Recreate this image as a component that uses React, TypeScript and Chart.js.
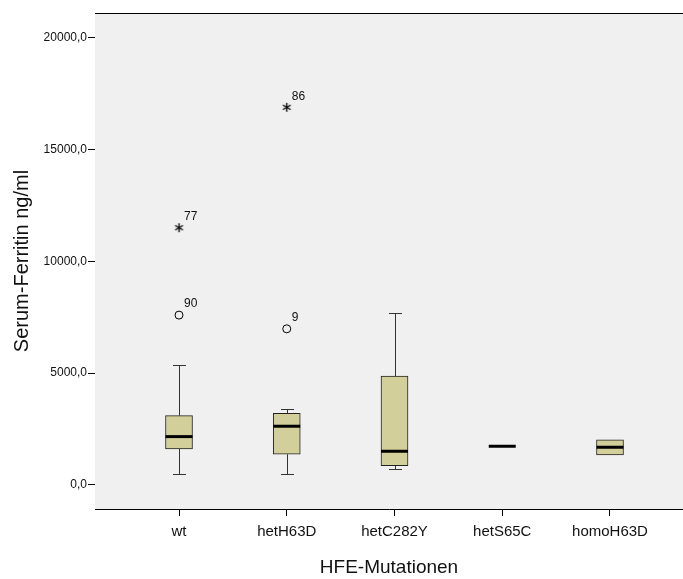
import React, { useEffect, useRef } from 'react';
import { Chart, registerables } from 'chart.js';

Chart.register(...registerables);

const CATEGORIES = ['wt', 'hetH63D', 'hetC282Y', 'hetS65C', 'homoH63D'];
const WHISKER_LOW: (number | null)[] = [507, 479, 703, null, null];
const Q1 = [1611, 1374, 864, 1732, 1343];
const MEDIAN = [2163, 2627, 1508, 1732, 1687];
const Q3 = [3103, 3209, 4865, 1732, 2014];
const WHISKER_HIGH: (number | null)[] = [5357, 3402, 7685, null, null];

const CIRCLE_X = [1, 2];
const CIRCLE_Y = [7596, 6983];
const CIRCLE_LABELS = ['90', '9'];
const STAR_X = [1, 2];
const STAR_Y = [11504, 16888];
const STAR_LABELS = ['77', '86'];

const Y_TICKS = [0, 5000, 10000, 15000, 20000];
const Y_MIN = -1074;
const Y_MAX = 21105;
const X_MIN = 0.2204;
const X_MAX = 5.6775;

const FONT = "'Liberation Sans', Arial, sans-serif";
const BOX_FILL = '#D3CF9A';
const PLOT_BG = '#F0F0F0';

function makeAsterisk(): HTMLCanvasElement {
  const c = document.createElement('canvas');
  c.width = 11;
  c.height = 11;
  const g = c.getContext('2d')!;
  g.strokeStyle = '#000';
  g.lineWidth = 1.3;
  const cx = 5.5;
  const cy = 5.5;
  const r = 4.5;
  for (let k = 0; k < 3; k++) {
    const a = Math.PI / 2 + (k * Math.PI) / 3;
    g.beginPath();
    g.moveTo(cx + r * Math.cos(a), cy + r * Math.sin(a));
    g.lineTo(cx - r * Math.cos(a), cy - r * Math.sin(a));
    g.stroke();
  }
  return c;
}

export default function App() {
  const ref = useRef<HTMLCanvasElement>(null);

  useEffect(() => {
    document.body.style.margin = '0';
    const canvas = ref.current!;

    const boxPlugin = {
      id: 'boxPlugin',
      beforeDatasetsDraw(chart: any) {
        const { ctx, chartArea } = chart;
        ctx.save();
        ctx.fillStyle = PLOT_BG;
        ctx.fillRect(chartArea.left, chartArea.top, chartArea.right - chartArea.left, chartArea.bottom - chartArea.top);
        const xs = chart.scales.x;
        const ys = chart.scales.y;
        ctx.strokeStyle = '#333';
        ctx.lineWidth = 1;
        CATEGORIES.forEach((_, i) => {
          const px = Math.round(xs.getPixelForValue(i + 1)) + 0.5;
          const hi = WHISKER_HIGH[i];
          const lo = WHISKER_LOW[i];
          if (hi != null) {
            const yh = Math.round(ys.getPixelForValue(hi)) + 0.5;
            const yq = ys.getPixelForValue(Q3[i]);
            ctx.beginPath();
            ctx.moveTo(px, yq);
            ctx.lineTo(px, yh);
            ctx.moveTo(px - 6.5, yh);
            ctx.lineTo(px + 6.5, yh);
            ctx.stroke();
          }
          if (lo != null) {
            const yl = Math.round(ys.getPixelForValue(lo)) + 0.5;
            const yq = ys.getPixelForValue(Q1[i]);
            ctx.beginPath();
            ctx.moveTo(px, yq);
            ctx.lineTo(px, yl);
            ctx.moveTo(px - 6.5, yl);
            ctx.lineTo(px + 6.5, yl);
            ctx.stroke();
          }
        });
        ctx.restore();
      },
      afterDatasetsDraw(chart: any) {
        const { ctx, chartArea } = chart;
        const xs = chart.scales.x;
        const ys = chart.scales.y;
        ctx.save();
        ctx.strokeStyle = '#000';
        ctx.lineWidth = 3;
        CATEGORIES.forEach((_, i) => {
          const px = xs.getPixelForValue(i + 1);
          const py = ys.getPixelForValue(MEDIAN[i]);
          ctx.beginPath();
          ctx.moveTo(px - 13.5, py);
          ctx.lineTo(px + 13.5, py);
          ctx.stroke();
        });
        ctx.fillStyle = '#111';
        ctx.font = `12px ${FONT}`;
        ctx.textAlign = 'left';
        ctx.textBaseline = 'middle';
        CIRCLE_X.forEach((x, i) => {
          ctx.fillText(CIRCLE_LABELS[i], xs.getPixelForValue(x) + 5, ys.getPixelForValue(CIRCLE_Y[i]) - 11);
        });
        STAR_X.forEach((x, i) => {
          ctx.fillText(STAR_LABELS[i], xs.getPixelForValue(x) + 5, ys.getPixelForValue(STAR_Y[i]) - 11);
        });
        ctx.strokeStyle = '#000';
        ctx.lineWidth = 1;
        ctx.beginPath();
        ctx.moveTo(chartArea.left, chartArea.top + 0.5);
        ctx.lineTo(chartArea.right, chartArea.top + 0.5);
        ctx.stroke();
        ctx.restore();
      },
    };

    const chart = new Chart(canvas, {
      type: 'bar',
      data: {
        datasets: [
          {
            type: 'bar',
            data: CATEGORIES.map((_, i) => ({ x: i + 1, y: [Q1[i], Q3[i]] })) as any,
            backgroundColor: BOX_FILL,
            borderColor: '#222',
            borderWidth: 1,
            borderSkipped: false,
            barThickness: 27,
            grouped: false,
          } as any,
          {
            type: 'scatter',
            data: CIRCLE_X.map((x, i) => ({ x, y: CIRCLE_Y[i] })),
            pointStyle: 'circle',
            pointRadius: 4,
            pointBorderColor: '#000',
            pointBorderWidth: 1,
            pointBackgroundColor: 'rgba(0,0,0,0)',
          } as any,
          {
            type: 'scatter',
            data: STAR_X.map((x, i) => ({ x, y: STAR_Y[i] })),
            pointStyle: makeAsterisk(),
            pointRadius: 4.5,
          } as any,
        ],
      },
      options: {
        responsive: false,
        animation: false,
        devicePixelRatio: 1,
        layout: { autoPadding: false, padding: { top: 13, right: 0, bottom: 0, left: 0 } },
        plugins: {
          legend: { display: false },
          tooltip: { enabled: false },
        },
        scales: {
          x: {
            type: 'linear',
            offset: false,
            min: X_MIN,
            max: X_MAX,
            afterBuildTicks: (scale: any) => {
              scale.ticks = CATEGORIES.map((_, i) => ({ value: i + 1 }));
            },
            afterFit: (scale: any) => {
              scale.height = 70;
            },
            ticks: {
              autoSkip: false,
              maxRotation: 0,
              padding: 7,
              color: '#111',
              font: { family: FONT, size: 15 },
              callback: (v: any) => CATEGORIES[Math.round(Number(v)) - 1] ?? '',
            },
            grid: { display: true, offset: false, drawOnChartArea: false, drawTicks: true, tickLength: 7, color: '#000' },
            border: { display: true, color: '#000', width: 1 },
            title: {
              display: true,
              text: 'HFE-Mutationen',
              color: '#111',
              font: { family: FONT, size: 19 },
              padding: { top: 0, bottom: 0 },
            },
          },
          y: {
            type: 'linear',
            min: Y_MIN,
            max: Y_MAX,
            afterBuildTicks: (scale: any) => {
              scale.ticks = Y_TICKS.map((v) => ({ value: v }));
            },
            afterFit: (scale: any) => {
              scale.width = 95;
            },
            ticks: {
              padding: 1,
              color: '#111',
              font: { family: FONT, size: 12 },
              callback: (v: any) => Number(v).toFixed(1).replace('.', ','),
            },
            grid: { display: true, drawOnChartArea: false, drawTicks: true, tickLength: 7, color: '#000' },
            border: { display: true, color: '#000', width: 1 },
            title: {
              display: true,
              text: 'Serum-Ferritin ng/ml',
              color: '#111',
              font: { family: FONT, size: 20 },
              padding: { top: 10, bottom: 0 },
            },
          },
        },
      },
      plugins: [boxPlugin],
    } as any);

    return () => chart.destroy();
  }, []);

  return (
    <div style={{ width: 683, height: 579 }}>
      <canvas ref={ref} width={683} height={579} style={{ display: 'block' }} />
    </div>
  );
}
